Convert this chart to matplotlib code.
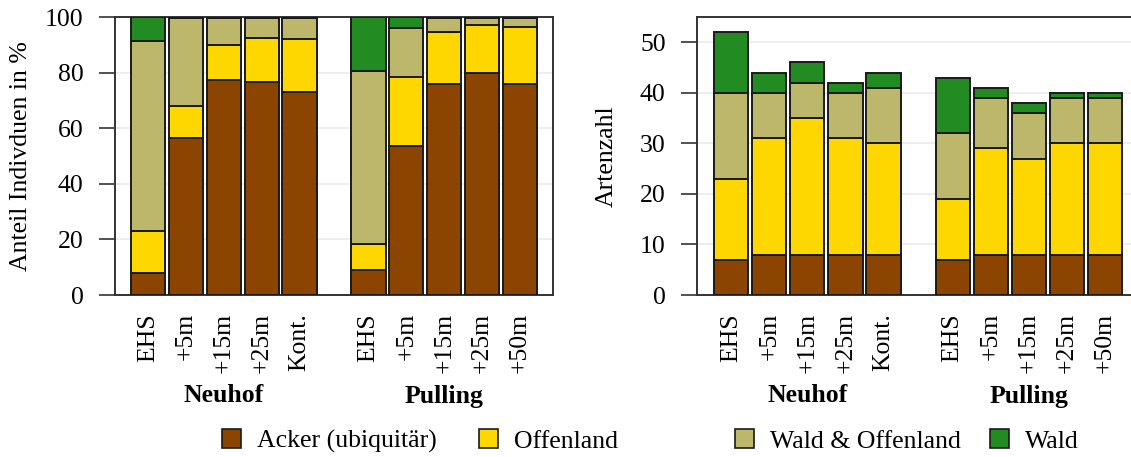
import matplotlib
matplotlib.use("Agg")
import matplotlib.pyplot as plt
import matplotlib.patches as mpatches
import matplotlib.transforms as mtransforms
import numpy as np

plt.rcParams['font.family'] = ['Liberation Serif', 'DejaVu Serif']

# ---------------- data ----------------
tick_labels = ["EHS", "+5m", "+15m", "+25m", "Kont.", "EHS", "+5m", "+15m", "+25m", "+50m"]
groups = ["Neuhof", "Pulling"]
series = ["Acker (ubiquitär)", "Offenland", "Wald & Offenland", "Wald"]
colors = ["#8B4500", "#FFD700", "#BDB76B", "#228B22"]

# Anteil Individuen in % (left panel)
pct_acker = [8, 56.5, 77.5, 76.5, 73, 9, 53.5, 76, 80, 76]
pct_offen = [15, 11.5, 12.5, 16, 19, 9.5, 25, 18.5, 17, 20.5]
pct_waldoffen = [68.5, 31.5, 9.5, 7, 7.5, 62, 17.5, 5, 2.5, 3]
pct_wald = [8.5, 0.5, 0.5, 0.5, 0.5, 19.5, 4, 0.5, 0.5, 0.5]

# Artenzahl (right panel)
n_acker = [7, 8, 8, 8, 8, 7, 8, 8, 8, 8]
n_offen = [16, 23, 27, 23, 22, 12, 21, 19, 22, 22]
n_waldoffen = [17, 9, 7, 9, 11, 13, 10, 9, 9, 9]
n_wald = [12, 4, 4, 2, 3, 11, 2, 2, 1, 1]

# ---------------- layout ----------------
W, H = 1131, 457
fig = plt.figure(figsize=(W / 100, H / 100), dpi=100)
FS = 18.5

gap = 1.82
x = np.array([0, 1, 2, 3, 4, 4 + gap, 5 + gap, 6 + gap, 7 + gap, 8 + gap])
group_centers = [2, 6 + gap]

ax1 = fig.add_axes([115 / W, (H - 295) / H, 438 / W, 278 / H])
ax2 = fig.add_axes([697 / W, (H - 295) / H, 441 / W, 278 / H])


def draw(ax, stacks, ylim, yticks, ylabel, xlim, label_x):
    bottom = np.zeros(len(x))
    for vals, c in zip(stacks, colors):
        vals = np.array(vals, dtype=float)
        ax.bar(x, vals, bottom=bottom, width=0.9, color=c,
               edgecolor="#1a1a1a", linewidth=1.4, zorder=3)
        bottom += vals
    ax.set_ylim(*ylim)
    ax.set_xlim(*xlim)
    ax.set_yticks(yticks)
    ax.set_yticklabels([str(t) for t in yticks], fontsize=FS)
    ax.set_xticks(x)
    ax.set_xticklabels(tick_labels, rotation=90, fontsize=FS)
    ax.tick_params(axis='y', length=11.5, width=1.2, pad=11, color="#333333")
    ax.tick_params(axis='x', length=0, pad=13)
    ax.grid(axis='y', color="#EBEBEB", linewidth=1.2, zorder=0)
    ax.set_axisbelow(True)
    for s in ax.spines.values():
        s.set_color("#333333")
        s.set_linewidth(1.4)
    ax.set_ylabel(ylabel, fontsize=FS)
    ax.yaxis.set_label_coords(label_x, 0.5)
    trans = mtransforms.blended_transform_factory(ax.transData, fig.transFigure)
    for g, gc in zip(groups, group_centers):
        ax.text(gc, 1 - 396 / H, g, transform=trans, ha='center', va='center',
                fontsize=FS, fontweight='bold')


draw(ax1, [pct_acker, pct_offen, pct_waldoffen, pct_wald], (0, 100),
     [0, 20, 40, 60, 80, 100], "Anteil Indivduen in %", (-0.87, x[-1] + 0.87), -0.19)
draw(ax2, [n_acker, n_offen, n_waldoffen, n_wald], (0, 55),
     [0, 10, 20, 30, 40, 50], "Artenzahl", (-0.9, x[-1] + 0.87), -0.18)

# legend: four separate entries at fixed positions
leg_x = [222, 479, 735, 990]
for lab, c, lx in zip(series, colors, leg_x):
    h = mpatches.Patch(facecolor=c, edgecolor="#1a1a1a", linewidth=1.2, label=lab)
    fig.legend(handles=[h], loc='center left', bbox_to_anchor=(lx / W, 1 - 441 / H),
               frameon=False, fontsize=FS, handlelength=0.75, handleheight=0.75,
               handletextpad=0.6, borderpad=0, borderaxespad=0)

fig.savefig("out.png", dpi=100)
